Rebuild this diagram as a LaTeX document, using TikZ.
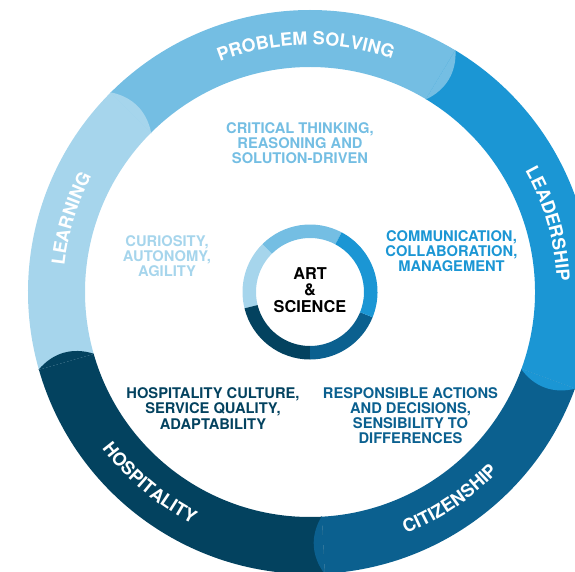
\documentclass[tikz,border=0pt]{standalone}
\usepackage{fontspec}
\setmainfont{TeX Gyre Heros}
\usepackage{tikz}
\usetikzlibrary{decorations.text}

\definecolor{learnblue}{RGB}{166,213,236}
\definecolor{solveblue}{RGB}{116,190,227}
\definecolor{leadblue}{RGB}{27,150,212}
\definecolor{citiblue}{RGB}{11,96,143}
\definecolor{hospblue}{RGB}{3,66,95}

\newcommand\ringfont{\bfseries\fontsize{18}{18}\selectfont}
\tikzset{
  ringtext/.style={decorate, decoration={text along path, text={|\ringfont|#1}, text align=center, text color=white}},
  skill/.style={align=center, inner sep=0pt, font=\bfseries\fontsize{14.7}{15.2}\selectfont}
}

\begin{document}
\begin{tikzpicture}[x=1pt,y=1pt]
                    \useasboundingbox (-310,-279) rectangle (265,292);
                    \clip (-310,-279) rectangle (265,292);
                    % outer ring
                    \foreach \a/\b/\c in {59/135/solveblue,135/196/learnblue,196/273/hospblue,273/340/citiblue,340/419/leadblue}
                        {
                        \fill[\c] (\a:282) arc[start angle=\a, end angle=\b, radius=282] -- (\b:225) arc[start angle=\b, end angle=\a, radius=225] -- cycle;
                    }
                    % rounded ends
                    \foreach \a/\c in {59/solveblue,135/learnblue,196/hospblue,273/citiblue,340/leadblue}
                        {
                        \fill[\c] (\a:282.5) to[bend left=34] (\a:224.5) -- cycle;
                    }
                    % inner ring
                    \foreach \a/\b/\c in {62/135/solveblue,135/194/learnblue,194/270/hospblue,270/338/citiblue,338/422/leadblue}
                        {
                        \fill[\c] (\a:67.5) arc[start angle=\a, end angle=\b, radius=67.5] -- (\b:54) arc[start angle=\b, end angle=\a, radius=54] -- cycle;
                    }
                    % ring labels
                    \path[ringtext={PROBLEM SOLVING}] (131:247) arc[start angle=131, end angle=51, radius=247];
                    \path[ringtext={LEADERSHIP}] (56:247) arc[start angle=56, end angle=-24, radius=247];
                    \path[ringtext={LEARNING}] (203:247) arc[start angle=203, end angle=123, radius=247];
                    \path[ringtext={CITIZENSHIP}] (-96:260) arc[start angle=-96, end angle=-16, radius=260];
                    \path[ringtext={HOSPITALITY}] (190:260) arc[start angle=190, end angle=270, radius=260];

                    \node[skill, text=solveblue] (crit) at (-10,149) {CRITICAL THINKING,\\REASONING AND\\SOLUTION-DRIVEN};
                    \node[skill, text=leadblue] (comm) at (141.5,41) {COMMUNICATION,\\COLLABORATION,\\MANAGEMENT};
                    \node[skill, text=learnblue] (curi) at (-143,36) {CURIOSITY,\\AUTONOMY,\\AGILITY};
                    \node[skill, text=hospblue] (hosp) at (-97,-116.5) {HOSPITALITY CULTURE,\\SERVICE QUALITY,\\ADAPTABILITY};
                    \node[skill, text=citiblue] (resp) at (100.5,-123.5) {RESPONSIBLE ACTIONS\\AND DECISIONS,\\SENSIBILITY TO\\DIFFERENCES};
                    \node[align=center, inner sep=0pt, font=\bfseries\fontsize{16.3}{16.4}\selectfont] (core) at (0,2) {ART\\\&\\SCIENCE};
                \end{tikzpicture}
\end{document}
